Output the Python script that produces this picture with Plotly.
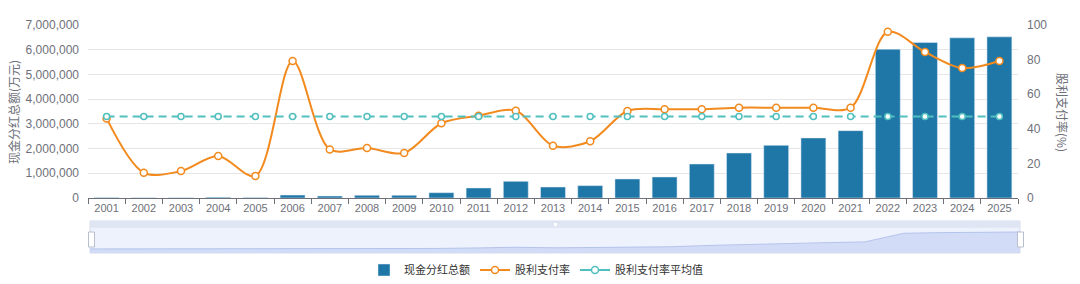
import plotly.graph_objects as go

years = [str(y) for y in range(2001, 2026)]
dividend_total = [20000, 10000, 10000, 30000, 20000, 120000, 80000, 110000, 110000, 215000,
                  405000, 675000, 445000, 500000, 770000, 850000, 1375000, 1820000, 2130000,
                  2430000, 2725000, 6020000, 6290000, 6480000, 6520000]
payout_ratio = [46.0, 14.6, 15.6, 24.3, 12.7, 79.2, 28.1, 28.9, 26.0, 43.2,
                47.6, 50.5, 30.2, 32.8, 50.3, 51.3, 51.3, 52.2, 52.2, 52.2,
                52.2, 96.1, 84.4, 75.1, 79.2]
payout_avg = [47.05] * len(years)
left_ticks = [0, 1000000, 2000000, 3000000, 4000000, 5000000, 6000000, 7000000]
right_ticks = [0, 20, 40, 60, 80, 100]

BAR = "#1f77a8"
ORANGE = "#f28a1e"
TEAL = "#52bfbf"
FONT = "Liberation Sans, Noto Sans CJK SC, sans-serif"
TXT = "#6e7079"

W, H = 1080, 284
ML, MR, MT, MB = 88, 56, 25, 0
PW, PH = W - ML - MR, H - MT - MB


def px(x):
    return (x - ML) / PW


def py(y):
    return (H - MB - y) / PH


fig = go.Figure()
fig.add_trace(go.Bar(x=years, y=dividend_total, name="现金分红总额", marker=dict(color=BAR),
                     xaxis="x", yaxis="y"))
fig.add_trace(go.Scatter(x=years, y=payout_ratio, name="股利支付率", mode="lines+markers",
                         line=dict(color=ORANGE, width=2, shape="spline", smoothing=0.9),
                         marker=dict(symbol="circle", size=7, color="white",
                                     line=dict(color=ORANGE, width=1.5)),
                         xaxis="x", yaxis="y2"))
fig.add_trace(go.Scatter(x=years, y=payout_avg, name="股利支付率平均值", mode="lines+markers",
                         line=dict(color=TEAL, width=2, dash="8px,5px"),
                         marker=dict(symbol="circle", size=6, color="white",
                                     line=dict(color=TEAL, width=1.5)),
                         showlegend=False, xaxis="x", yaxis="y2"))
# legend entry for the average line (solid sample as in the reference legend)
fig.add_trace(go.Scatter(x=[None], y=[None], name="股利支付率平均值", mode="lines+markers",
                         line=dict(color=TEAL, width=2),
                         marker=dict(symbol="circle", size=7, color="white",
                                     line=dict(color=TEAL, width=1.5)),
                         xaxis="x", yaxis="y2"))
# slider data shadow
fig.add_trace(go.Scatter(x=years, y=dividend_total, mode="lines", fill="tozeroy",
                         line=dict(color="#b4c3ec", width=1), fillcolor="#d2dcf7",
                         showlegend=False, hoverinfo="skip", xaxis="x2", yaxis="y3"))

main_bottom = py(198)
fig.update_layout(
    width=W, height=H,
    margin=dict(l=ML, r=MR, t=MT, b=MB, autoexpand=False),
    paper_bgcolor="white", plot_bgcolor="rgba(0,0,0,0)",
    font=dict(family=FONT, size=12, color=TXT),
    bargap=0.33,
    xaxis=dict(domain=[0, 930 / PW], type="category", range=[-0.5, 24.5],
               showline=True, linecolor="#6e7079",
               linewidth=1, ticks="outside", tickson="boundaries", ticklen=5,
               tickcolor="#6e7079", tickfont=dict(size=11, color=TXT), showgrid=False,
               anchor="y", fixedrange=True, automargin=False),
    yaxis=dict(domain=[main_bottom, 1], range=[0, 7000000], tickvals=left_ticks,
               tickformat=",d", showgrid=True, gridcolor="#e6e6e6", zeroline=False,
               showline=False, tickfont=dict(size=12, color=TXT), anchor="x",
               ticklabelstandoff=8, automargin=False),
    yaxis2=dict(domain=[main_bottom, 1], range=[0, 100], tickvals=right_ticks,
                overlaying="y", side="right", showgrid=False, zeroline=False,
                showline=False, tickfont=dict(size=12, color=TXT), anchor="x",
                ticklabelstandoff=8, automargin=False),
    xaxis2=dict(domain=[px(90), px(1020)], type="category", range=[0, 24],
                visible=False, anchor="y3", fixedrange=True),
    yaxis3=dict(domain=[py(253), py(227.7)], range=[-1534000, 8169000], visible=False,
                anchor="x2", fixedrange=True),
    legend=dict(orientation="h", x=px(536), xanchor="center", y=py(270), yanchor="middle",
                font=dict(size=11, color="#333"), itemwidth=30, bgcolor="rgba(0,0,0,0)",
                tracegroupgap=0),
    showlegend=True,
)

shapes = [
    dict(type="rect", xref="paper", yref="paper", x0=px(90), x1=px(1020), y0=py(253), y1=py(221),
         fillcolor="#eef2fd", line=dict(color="#d5dcee", width=1), layer="below"),
    dict(type="rect", xref="paper", yref="paper", x0=px(90), x1=px(1020), y0=py(227.7), y1=py(221),
         fillcolor="#dfe5f3", line=dict(width=0), layer="below"),
    dict(type="rect", xref="paper", yref="paper", x0=px(90), x1=px(1020), y0=py(253), y1=py(249),
         fillcolor="#d2dcf7", line=dict(width=0), layer="below"),
    dict(type="rect", xref="paper", yref="paper", x0=px(88.5), x1=px(94.5), y0=py(247), y1=py(232),
         fillcolor="white", line=dict(color="#b8bfcc", width=1)),
    dict(type="rect", xref="paper", yref="paper", x0=px(1017.5), x1=px(1023.5), y0=py(247), y1=py(232),
         fillcolor="white", line=dict(color="#b8bfcc", width=1)),
    dict(type="rect", xref="paper", yref="paper", x0=px(554), x1=px(557), y0=py(226), y1=py(223),
         fillcolor="white", line=dict(width=0)),
]
fig.update_layout(shapes=shapes)

fig.add_annotation(text="现金分红总额(万元)", xref="paper", yref="paper", x=px(13), y=py(112),
                   showarrow=False, textangle=-90, font=dict(size=12, color=TXT,
                   family="Noto Sans CJK SC, sans-serif"), xanchor="center", yanchor="middle")
fig.add_annotation(text="股利支付率(%)", xref="paper", yref="paper", x=px(1063), y=py(112),
                   showarrow=False, textangle=90, font=dict(size=12, color=TXT,
                   family="Noto Sans CJK SC, sans-serif"), xanchor="center", yanchor="middle")

fig.write_html("out.html")
